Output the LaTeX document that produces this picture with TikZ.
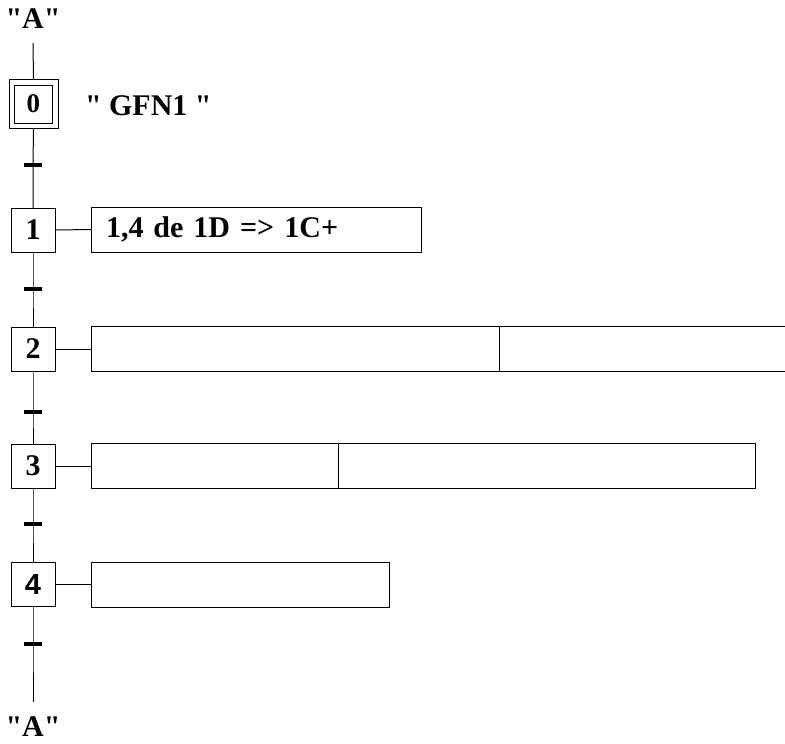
\documentclass[tikz,border=0pt]{standalone}
\usepackage{fontspec}
\setmainfont{Liberation Serif}
\newfontfamily\sansf{Liberation Sans}
\begin{document}
\begin{tikzpicture}[x=1pt,y=-1pt,
  every node/.style={inner sep=0pt, outer sep=0pt},
  bigtxt/.style={font=\fontsize{30}{30}\selectfont\bfseries},
  stepbox/.style={draw, line width=1pt, minimum width=44pt, minimum height=44pt, bigtxt},
  actbox/.style={draw, line width=1pt, minimum height=45pt, anchor=west},
  trans/.style={fill=black, minimum width=18pt, minimum height=4pt},
  lbl/.style={bigtxt},
  link/.style={line width=1pt}]
\useasboundingbox (0,0) rectangle (785,744);
% top label and start
\node[lbl, anchor=base] (atop) at (33,28) {\textquotedbl A\textquotedbl};
\coordinate (ltop) at (33,43);
% steps
\node[draw, line width=1pt, minimum width=49pt, minimum height=49pt] (s0) at (33.5,104) {};
\node[draw, line width=1pt, minimum width=38pt, minimum height=38pt, font=\fontsize{27}{27}\selectfont\bfseries] (s0i) at (33.5,104) {0};
\node[lbl, anchor=base west] (gfn) at (85,115) {\textquotedbl{} GFN1 \textquotedbl};
\node[stepbox] (s1) at (33,230) {1};
\node[stepbox] (s2) at (33,349) {2};
\node[stepbox] (s3) at (33,466) {3};
\node[stepbox, font=\fontsize{29}{29}\selectfont\bfseries\sansf] (s4) at (33,584.5) {4};
% transitions
\node[trans] (t0) at (33,165) {};
\node[trans] (t1) at (33,289) {};
\node[trans] (t2) at (33,412) {};
\node[trans] (t3) at (33,524) {};
\node[trans] (t4) at (33,644) {};
\coordinate (lbot) at (33,702);
\node[lbl, anchor=base] (abot) at (33,736) {\textquotedbl A\textquotedbl};
% vertical links
\draw[link] (ltop) -- (s0.north);
\draw[link] (s0.south) -- (t0.center) -- (s1.north);
\draw[link] (s1.south) -- (t1.center) -- (s2.north);
\draw[link] (s2.south) -- (t2.center) -- (s3.north);
\draw[link] (s3.south) -- (t3.center) -- (s4.north);
\draw[link] (s4.south) -- (t4.center) -- (lbot);
% actions
\node[actbox, minimum width=330pt, text width=300pt, inner xsep=15pt, align=left, bigtxt] (a1) at (91,229.5) {1,4 de 1D => 1C+};
\node[actbox, minimum width=408pt] (a2a) at (91,349) {};
\node[actbox, minimum width=288pt] (a2b) at (499,349) {};
\node[actbox, minimum width=247pt] (a3a) at (91,466) {};
\node[actbox, minimum width=417pt] (a3b) at (338,466) {};
\node[actbox, minimum width=298pt] (a4) at (91,584.5) {};
% connectors
\draw[link] (s1.east) -- (a1.west);
\draw[link] (s2.east) -- (a2a.west);
\draw[link] (s3.east) -- (a3a.west);
\draw[link] (s4.east) -- (a4.west);
\end{tikzpicture}
\end{document}
